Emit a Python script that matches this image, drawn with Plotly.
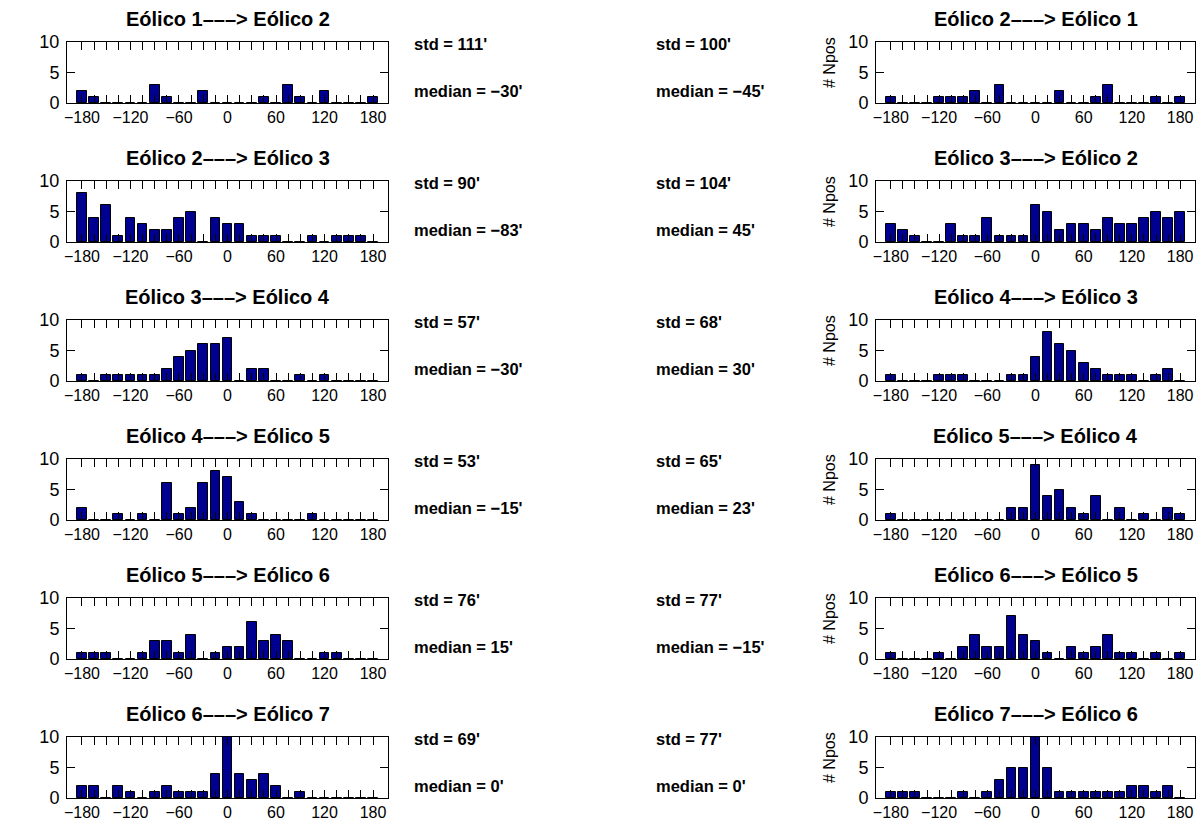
import plotly.graph_objects as go

# Bin centres (degrees)
bin_centers = [-180, -165, -150, -135, -120, -105, -90, -75, -60, -45, -30, -15,
               0, 15, 30, 45, 60, 75, 90, 105, 120, 135, 150, 165, 180]
x_tick_vals = [-180, -120, -60, 0, 60, 120, 180]
y_tick_vals = [0, 5, 10]

# Counts per bin for every transition
e1_e2 = [2, 1, 0, 0, 0, 0, 3, 1, 0, 0, 2, 0, 0, 0, 0, 1, 0, 3, 1, 0, 2, 0, 0, 0, 1]
e2_e1 = [1, 0, 0, 0, 1, 1, 1, 2, 0, 3, 0, 0, 0, 0, 2, 0, 0, 1, 3, 0, 0, 0, 1, 0, 1]
e2_e3 = [8, 4, 6, 1, 4, 3, 2, 2, 4, 5, 0, 4, 3, 3, 1, 1, 1, 0, 0, 1, 0, 1, 1, 1, 0]
e3_e2 = [3, 2, 1, 0, 0, 3, 1, 1, 4, 1, 1, 1, 6, 5, 2, 3, 3, 2, 4, 3, 3, 4, 5, 4, 5]
e3_e4 = [1, 0, 1, 1, 1, 1, 1, 2, 4, 5, 6, 6, 7, 0, 2, 2, 0, 0, 1, 0, 1, 0, 0, 0, 0]
e4_e3 = [1, 0, 0, 0, 1, 1, 1, 0, 0, 0, 1, 1, 4, 8, 6, 5, 3, 2, 1, 1, 1, 0, 1, 2, 0]
e4_e5 = [2, 0, 0, 1, 0, 1, 0, 6, 1, 2, 6, 8, 7, 3, 1, 0, 0, 0, 0, 1, 0, 0, 0, 0, 0]
e5_e4 = [1, 0, 0, 0, 0, 0, 0, 0, 0, 0, 2, 2, 9, 4, 5, 2, 1, 4, 0, 2, 0, 1, 0, 2, 1]
e5_e6 = [1, 1, 1, 0, 0, 1, 3, 3, 1, 4, 0, 1, 2, 2, 6, 3, 4, 3, 0, 0, 1, 1, 0, 0, 0]
e6_e5 = [1, 0, 0, 0, 1, 0, 2, 4, 2, 2, 7, 4, 3, 1, 0, 2, 1, 2, 4, 1, 1, 0, 1, 0, 1]
e6_e7 = [2, 2, 0, 2, 1, 0, 1, 2, 1, 1, 1, 4, 10, 4, 3, 4, 2, 0, 1, 0, 0, 0, 0, 0, 0]
e7_e6 = [1, 1, 1, 0, 0, 0, 1, 0, 1, 3, 5, 5, 10, 5, 1, 1, 1, 1, 1, 1, 2, 2, 1, 2, 0]

titles = ["Eólico 1–––> Eólico 2", "Eólico 2–––> Eólico 1",
          "Eólico 2–––> Eólico 3", "Eólico 3–––> Eólico 2",
          "Eólico 3–––> Eólico 4", "Eólico 4–––> Eólico 3",
          "Eólico 4–––> Eólico 5", "Eólico 5–––> Eólico 4",
          "Eólico 5–––> Eólico 6", "Eólico 6–––> Eólico 5",
          "Eólico 6–––> Eólico 7", "Eólico 7–––> Eólico 6"]
std_labels = ["111", "100", "90", "104", "57", "68", "53", "65", "76", "77", "69", "77"]
median_labels = ["−30", "−45", "−83", "45", "−30", "30", "−15", "23", "15", "−15", "0", "0"]

series = [e1_e2, e2_e1, e2_e3, e3_e2, e3_e4, e4_e3,
          e4_e5, e5_e4, e5_e6, e6_e5, e6_e7, e7_e6]

# page body margin offsets the figure by 8 px
PAGE_OFF = 8
W, H = 1204 - 2 * PAGE_OFF, 827 - PAGE_OFF
ML, MR, MT, MB = 20, 0, 20, 10
PW, PH = W - ML - MR, H - MT - MB


def fx(px):
    return (px - PAGE_OFF - ML) / PW


def fy(py):
    return 1 - (py - PAGE_OFF - MT) / PH


col_px = [(67, 388), (876, 1195)]
text_x_px = [412, 654]
row_top0, row_h, row_step = 42, 61, 139
FONT = "Liberation Sans, Arial, Helvetica, sans-serif"

fig = go.Figure()
layout = dict(width=W, height=H, margin=dict(l=ML, r=MR, t=MT, b=MB, autoexpand=False),
              paper_bgcolor="white", plot_bgcolor="white", showlegend=False,
              bargap=0)
annotations = []

for i, vals in enumerate(series):
    r, c = divmod(i, 2)
    n = i + 1
    xs = "" if n == 1 else str(n)
    fig.add_trace(go.Bar(x=bin_centers, y=vals, width=12,
                         marker=dict(color="#000090", line=dict(color="black", width=1)),
                         xaxis="x" + xs, yaxis="y" + xs, hoverinfo="x+y"))
    top = row_top0 + r * row_step
    bot = top + row_h
    x0, x1 = col_px[c]
    layout["xaxis" + xs] = dict(
        domain=[fx(x0), fx(x1)], range=[-198.5, 198.5], anchor="y" + xs,
        tickvals=x_tick_vals, ticks="inside", ticklen=8, tickcolor="black", tickwidth=1,
        showline=True, linecolor="black", linewidth=1, mirror="ticks",
        showgrid=False, zeroline=False, automargin=False,
        minor=dict(tickvals=bin_centers, ticks="inside", ticklen=8, tickcolor="black",
                   tickwidth=1, showgrid=False),
        tickfont=dict(family=FONT, size=16, color="black"))
    layout["yaxis" + xs] = dict(
        domain=[fy(bot), fy(top)], range=[0, 10], anchor="x" + xs,
        tickvals=y_tick_vals, ticks="inside", ticklen=8, tickcolor="black", tickwidth=1,
        showline=True, linecolor="black", linewidth=1, mirror="ticks",
        showgrid=False, zeroline=False, automargin=False, ticklabelstandoff=3,
        tickfont=dict(family=FONT, size=18, color="black"))
    annotations.append(dict(text="<b>" + titles[i] + "</b>", xref="paper", yref="paper",
                            x=fx((x0 + x1) / 2), y=fy(top - 23),
                            xanchor="center", yanchor="middle", showarrow=False,
                            font=dict(family=FONT, size=20, color="black")))
    annotations.append(dict(text="<b>std = " + std_labels[i] + "'</b>", xref="paper", yref="paper",
                            x=fx(text_x_px[c]), y=fy(top + 2),
                            xanchor="left", yanchor="middle", showarrow=False,
                            font=dict(family=FONT, size=16.5, color="black")))
    annotations.append(dict(text="<b>median = " + median_labels[i] + "'</b>", xref="paper", yref="paper",
                            x=fx(text_x_px[c]), y=fy(top + 49),
                            xanchor="left", yanchor="middle", showarrow=False,
                            font=dict(family=FONT, size=16.5, color="black")))
    if c == 1:
        annotations.append(dict(text="# Npos", xref="paper", yref="paper",
                                x=fx(829), y=fy(top + 21), textangle=-90,
                                xanchor="center", yanchor="middle", showarrow=False,
                                font=dict(family=FONT, size=16, color="black")))

layout["annotations"] = annotations
fig.update_layout(**layout)
fig.write_html("out.html")
